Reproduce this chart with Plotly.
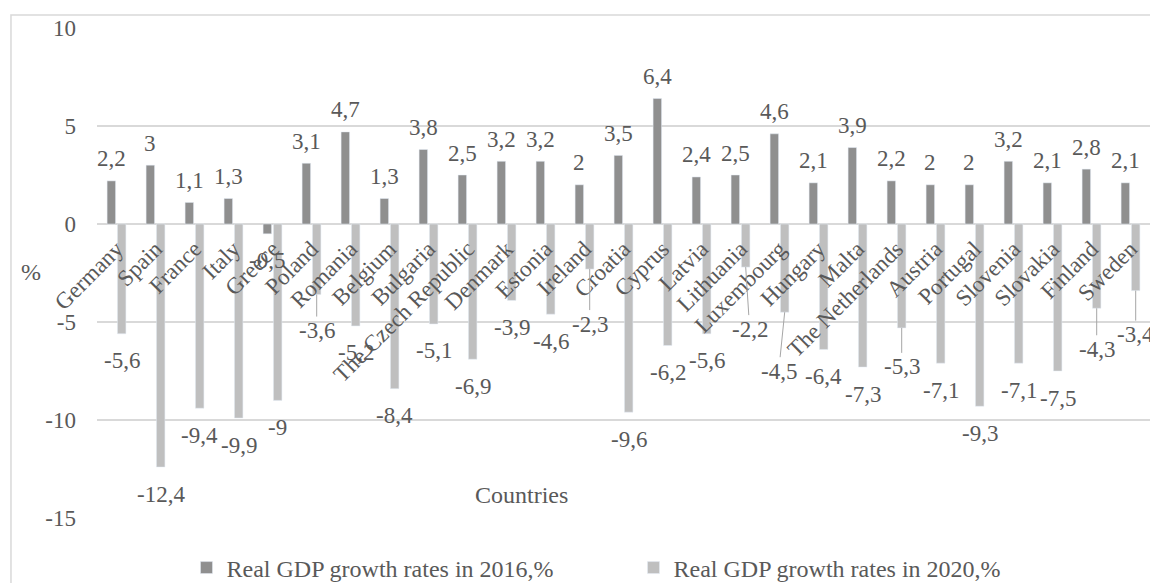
import plotly.graph_objects as go

countries = ["Germany", "Spain", "France", "Italy", "Greece", "Poland", "Romania", "Belgium",
             "Bulgaria", "The Czech Republic", "Denmark", "Estonia", "Ireland", "Croatia", "Cyprus",
             "Latvia", "Lithuania", "Luxembourg", "Hungary", "Malta", "The Netherlands", "Austria",
             "Portugal", "Slovenia", "Slovakia", "Finland", "Sweden"]
gdp_2016 = [2.2, 3, 1.1, 1.3, -0.5, 3.1, 4.7, 1.3, 3.8, 2.5, 3.2, 3.2, 2, 3.5, 6.4, 2.4, 2.5,
            4.6, 2.1, 3.9, 2.2, 2, 2, 3.2, 2.1, 2.8, 2.1]
gdp_2020 = [-5.6, -12.4, -9.4, -9.9, -9, -3.6, -5.2, -8.4, -5.1, -6.9, -3.9, -4.6, -2.3, -9.6,
            -6.2, -5.6, -2.2, -4.5, -6.4, -7.3, -5.3, -7.1, -9.3, -7.1, -7.5, -4.3, -3.4]
y_tickvals = [-15, -10, -5, 0, 5, 10]
y_ticktext = ["-15", "-10", "-5", "0", "5", "10"]
name_2016 = "Real GDP growth rates in 2016,%"
name_2020 = "Real GDP growth rates in 2020,%"

# label placement styling (pixel offsets) for 2020 labels that use leader lines
leader = {"Poland": (0, 36), "Ireland": (0, 55), "Lithuania": (4, 62), "Luxembourg": (-6, 59),
          "The Netherlands": (0, 39), "Finland": (0, 41), "Sweden": (0, 44)}

FONT = "Liberation Serif, Times New Roman, serif"
TXT = "#595959"
C16 = "#8f8f8f"
C20 = "#bfbfbf"
GRID = "#d9d9d9"
FS = 23


def fmt(v):
    return f"{v:g}".replace(".", ",")


fig = go.Figure()
fig.add_trace(go.Bar(x=countries, y=gdp_2016, name=name_2016, marker_color=C16))
fig.add_trace(go.Bar(x=countries, y=gdp_2020, name=name_2020, marker_color=C20))

ann = []
OFF = 5.2
for c, v in zip(countries, gdp_2016):
    ann.append(dict(x=c, y=v, text=fmt(v), showarrow=False, xshift=-OFF,
                    yshift=22 if v >= 0 else -27, yanchor="middle", xanchor="center",
                    font=dict(family=FONT, size=FS, color=TXT)))
for c, v in zip(countries, gdp_2020):
    if c in leader:
        dx, dy = leader[c]
        ann.append(dict(x=c, y=v, text=fmt(v), showarrow=True, arrowhead=0, arrowwidth=1,
                        arrowcolor="#a6a6a6", ax=dx, ay=dy, standoff=0, xshift=OFF,
                        font=dict(family=FONT, size=FS, color=TXT)))
    else:
        ann.append(dict(x=c, y=v, text=fmt(v), showarrow=False, xshift=OFF, yshift=-27,
                        yanchor="middle", xanchor="center",
                        font=dict(family=FONT, size=FS, color=TXT)))

ann.append(dict(xref="paper", yref="paper", x=0.4036, y=0.047, text="Countries", showarrow=False,
                xanchor="center", yanchor="middle", font=dict(family=FONT, size=24, color=TXT)))
ann.append(dict(xref="paper", yref="paper", x=-0.0627, y=0.502, text="%", showarrow=False,
                xanchor="center", yanchor="middle", font=dict(family=FONT, size=24, color=TXT)))

fig.update_layout(
    width=1150, height=583,
    margin=dict(l=97, r=0, t=28, b=65, autoexpand=False),
    paper_bgcolor="white", plot_bgcolor="white",
    barmode="group", bargap=0.47, bargroupgap=0.18,
    font=dict(family=FONT, size=FS, color=TXT),
    showlegend=True,
    legend=dict(orientation="h", x=0.085, xanchor="left", y=-0.102, yanchor="middle",
                entrywidth=402, font=dict(family=FONT, size=24, color=TXT),
                bgcolor="rgba(0,0,0,0)", traceorder="normal", itemwidth=30),
    annotations=ann,
    shapes=[dict(type="rect", xref="paper", yref="paper", x0=-0.0817, x1=1.02, y0=-0.2, y1=1.0265,
                 line=dict(color=GRID, width=1.5), fillcolor="rgba(0,0,0,0)", layer="below")],
    xaxis=dict(type="category", anchor="free", position=0.6, showline=False, showgrid=False,
               zeroline=False, tickangle=-45, tickmode="array", tickvals=countries,
               ticktext=countries, ticks="", ticklabelstandoff=6,
               tickfont=dict(family=FONT, size=FS, color=TXT), automargin=False,
               range=[-0.5, len(countries) - 0.5]),
    yaxis=dict(range=[-15, 10], tickmode="array", tickvals=y_tickvals, ticktext=y_ticktext,
               showgrid=True, gridcolor=GRID, gridwidth=1.5, zeroline=True, zerolinecolor=GRID,
               zerolinewidth=1.5, showline=False, ticks="", ticklabelstandoff=20,
               tickfont=dict(family=FONT, size=FS, color=TXT), automargin=False),
)

fig.write_html("out.html")
